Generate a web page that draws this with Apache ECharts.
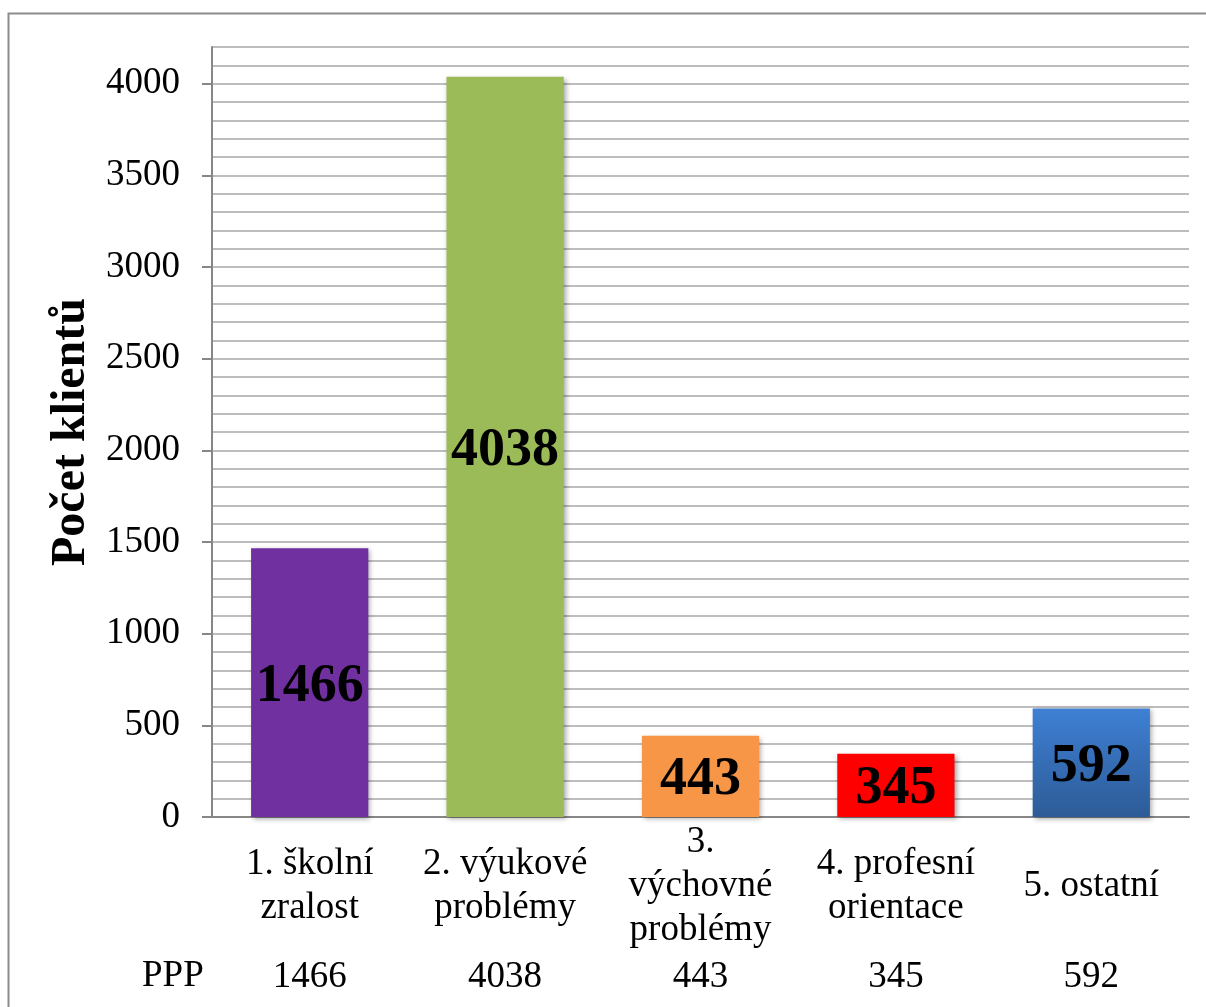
<!DOCTYPE html>
<html>
<head>
<meta charset="utf-8">
<script src="https://cdn.jsdelivr.net/npm/echarts@6/dist/echarts.min.js"></script>
<style>
  html, body { margin: 0; padding: 0; background: #fff; }
  #chart { width: 1206px; height: 1007px; }
</style>
</head>
<body>
<div id="chart"></div>
<script>
// data
const categories = ['1. školní\nzralost', '2. výukové\nproblémy', '3.\nvýchovné\nproblémy', '4. profesní\norientace', '5. ostatní']
const seriesName = 'PPP'
const values = [1466, 4038, 443, 345, 592]
const yTicks = [0, 500, 1000, 1500, 2000, 2500, 3000, 3500, 4000]

// barvy sloupců
const blueGrad = new echarts.graphic.LinearGradient(0, 0, 0, 1, [
  { offset: 0, color: '#3e80d4' },
  { offset: 1, color: '#2d5b97' }
])
const barColors = ['#7030a0', '#9bbb59', '#f79646', '#ff0000', blueGrad]

const serif = '"Liberation Serif", "Times New Roman", serif'

const chart = echarts.init(document.getElementById('chart'))

const option = {
  backgroundColor: '#fff',
  animation: false,
  textStyle: { fontFamily: serif },
  graphic: [
    {
      type: 'rect',
      shape: { x: 8.5, y: 13.5, width: 1220, height: 1020 },
      style: { fill: 'none', stroke: '#8c8c8c', lineWidth: 2 }
    },
    {
      type: 'text',
      left: 142,
      top: 958,
      style: { text: seriesName, font: '37px ' + serif, fill: '#000' }
    }
  ],
  grid: { left: 212, right: 17, top: 47, bottom: 190 },
  xAxis: [
    {
      type: 'category',
      data: categories,
      axisLine: { lineStyle: { color: '#878787', width: 2 } },
      axisTick: { show: false },
      axisLabel: {
        interval: 0,
        color: '#000',
        fontFamily: serif,
        fontSize: 37,
        lineHeight: 44,
        verticalAlign: 'middle',
        margin: 69
      }
    },
    {
      type: 'category',
      position: 'bottom',
      offset: 160,
      data: values.map(String),
      axisLine: { show: false },
      axisTick: { show: false },
      axisLabel: {
        interval: 0,
        color: '#000',
        fontFamily: serif,
        fontSize: 37,
        verticalAlign: 'middle',
        margin: 0
      }
    }
  ],
  yAxis: [
    {
      type: 'value',
      min: 0,
      max: 4200,
      interval: 100,
      name: 'Počet klientů',
      nameLocation: 'middle',
      nameRotate: 90,
      nameGap: 114,
      nameTextStyle: { fontFamily: serif, fontSize: 48, fontWeight: 'bold', color: '#000' },
      axisLine: { show: true, lineStyle: { color: '#878787', width: 2 } },
      axisTick: { show: true, length: 10, customValues: yTicks, lineStyle: { color: '#878787', width: 2 } },
      axisLabel: {
        customValues: yTicks,
        formatter: v => String(v),
        color: '#000',
        fontFamily: serif,
        fontSize: 37,
        margin: 32
      },
      splitLine: { show: false },
      z: 3
    },
    {
      // pomocná osa jen pro vedlejší mřížku po 100
      type: 'value',
      min: 0,
      max: 4200,
      interval: 100,
      position: 'left',
      axisLine: { show: false },
      axisTick: { show: false },
      axisLabel: { show: false },
      splitLine: { show: true, lineStyle: { color: '#bdbdbd', width: 2 } }
    }
  ],
  series: [
    {
      name: seriesName,
      type: 'bar',
      xAxisIndex: 0,
      yAxisIndex: 0,
      barWidth: '60%',
      data: values.map((v, i) => ({ value: v, itemStyle: { color: barColors[i] } })),
      itemStyle: {
        shadowBlur: 5,
        shadowColor: 'rgba(0,0,0,0.35)',
        shadowOffsetX: 2,
        shadowOffsetY: 2
      },
      label: {
        show: true,
        position: 'inside',
        offset: [0, 4],
        color: '#000',
        fontFamily: serif,
        fontWeight: 'bold',
        fontSize: 54
      }
    }
  ]
}

chart.setOption(option)
window.addEventListener('resize', () => chart.resize())
</script>
</body>
</html>
